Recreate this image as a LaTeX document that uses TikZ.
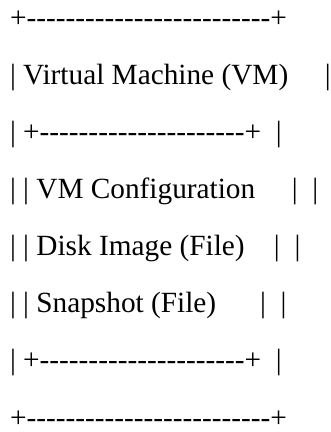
\documentclass[tikz,border=0pt]{standalone}
\usepackage{fontspec}
\setmainfont{Liberation Serif}
\begin{document}
\begin{tikzpicture}[x=1pt,y=1pt,
  asciiline/.style={anchor=base west,inner sep=0pt,outer sep=0pt,
    font=\fontsize{29.3}{34}\selectfont}]
\useasboundingbox (0,0) rectangle (331,-432);
% one text line per row, baselines 57.14pt apart
\def\dashes#1{\foreach \k in {1,...,#1}{-}}
\node[asciiline] (l1) at (10,-27.0)  {+\dashes{25}+};
\node[asciiline] (l2) at (10,-84.1)  {|\ Virtual Machine (VM)\ \ \ \ \ |};
\node[asciiline] (l3) at (10,-141.3) {|\ +\dashes{21}+\ \ |};
\node[asciiline] (l4) at (10,-198.4) {|\ |\ VM Configuration\ \ \ \ \ |\ \ |};
\node[asciiline] (l5) at (10,-255.6) {|\ |\ Disk Image (File)\ \ \ \ |\ \ |};
\node[asciiline] (l6) at (10,-312.7) {|\ |\ Snapshot (File)\ \ \ \ \ \ |\ \ |};
\node[asciiline] (l7) at (10,-369.9) {|\ +\dashes{21}+\ \ |};
\node[asciiline] (l8) at (10,-427.0) {+\dashes{25}+};
\end{tikzpicture}
\end{document}
